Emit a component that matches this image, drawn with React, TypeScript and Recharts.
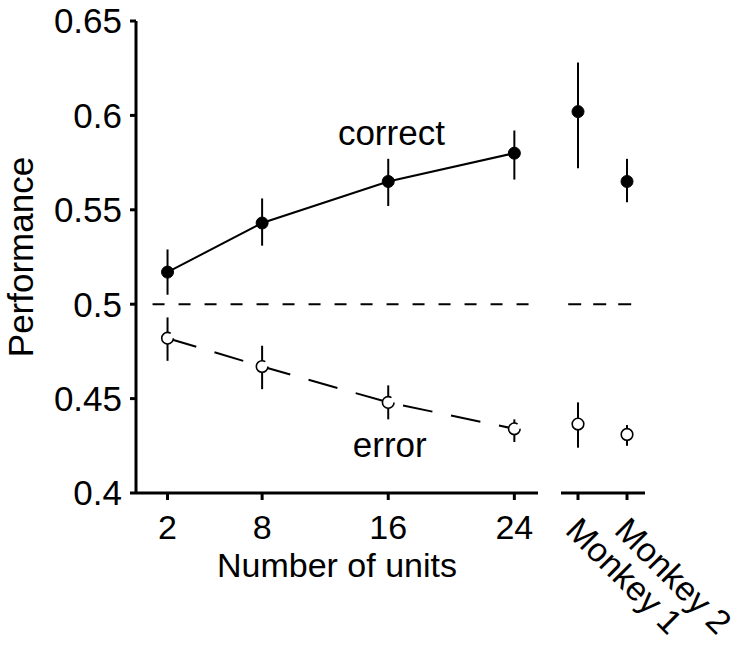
import React from 'react';
import { LineChart, Line, XAxis, YAxis, ErrorBar, ReferenceLine, ReferenceDot, Label } from 'recharts';

// number of units (left panel)
const units = [2, 8, 16, 24];
const correctMean = [0.517, 0.543, 0.565, 0.58];
const correctLow = [0.505, 0.531, 0.552, 0.566];
const correctHigh = [0.529, 0.556, 0.577, 0.592];
const errorMean = [0.482, 0.467, 0.448, 0.434];
const errorLow = [0.47, 0.455, 0.439, 0.427];
const errorHigh = [0.493, 0.478, 0.457, 0.439];

// monkeys (right panel)
const monkeys = ['Monkey 1', 'Monkey 2'];
const monkeyCorrect = [0.602, 0.565];
const monkeyCorrectLow = [0.572, 0.554];
const monkeyCorrectHigh = [0.628, 0.577];
const monkeyError = [0.4365, 0.431];
const monkeyErrorLow = [0.424, 0.425];
const monkeyErrorHigh = [0.448, 0.436];

const yTicks = [0.4, 0.45, 0.5, 0.55, 0.6, 0.65];

const FONT = "'Liberation Sans', Arial, Helvetica, sans-serif";
const FS = 35;
const XFS = 34;

const leftData = units.map((u, i) => ({
  u,
  correct: correctMean[i],
  correctErr: [correctMean[i] - correctLow[i], correctHigh[i] - correctMean[i]],
  error: errorMean[i],
  errorErr: [errorMean[i] - errorLow[i], errorHigh[i] - errorMean[i]],
}));

const rightData = monkeys.map((m, i) => ({
  pos: i + 1,
  correct: monkeyCorrect[i],
  correctErr: [monkeyCorrect[i] - monkeyCorrectLow[i], monkeyCorrectHigh[i] - monkeyCorrect[i]],
  error: monkeyError[i],
  errorErr: [monkeyError[i] - monkeyErrorLow[i], monkeyErrorHigh[i] - monkeyError[i]],
}));

const filledDot = { r: 6, fill: '#000', stroke: '#000', strokeWidth: 1 };
const openDot = { r: 5.8, fill: '#fff', stroke: '#000', strokeWidth: 1.6 };

const MonkeyTick = (props: any) => {
  const { x, y, payload } = props;
  const name = monkeys[Math.round(payload.value) - 1];
  const ax = x - 14;
  const ay = y + 30;
  return (
    <text x={ax} y={ay} fill="#000" fontSize={XFS} fontFamily={FONT} textAnchor="start"
      transform={`rotate(45, ${ax}, ${ay})`}>
      {name}
    </text>
  );
};

const TextLabel = (txt: string) => (props: any) => {
  const vb = props.viewBox || { x: 0, y: 0 };
  return (
    <text x={vb.x} y={vb.y} fill="#000" fontSize={FS} fontFamily={FONT} textAnchor="middle">
      {txt}
    </text>
  );
};

const App = () => {
  return (
    <div style={{ position: 'absolute', left: 0, top: 0, width: 742, height: 647, background: '#fff', fontFamily: FONT }}>
      <div style={{ position: 'absolute', left: 0, top: 0 }}>
        <LineChart width={560} height={647} data={leftData} margin={{ top: 21, right: 22, left: 0, bottom: 0 }}>
          <XAxis
            dataKey="u"
            type="number"
            domain={[0, 25.5]}
            ticks={units}
            height={154}
            tickSize={7}
            tickMargin={15}
            stroke="#000"
            strokeWidth={3}
            tick={{ fill: '#000', fontSize: XFS, fontFamily: FONT }}
          >
            <Label
              content={(p: any) => {
                const vb = p.viewBox || { x: 136, y: 493, width: 402 };
                return (
                  <text x={vb.x + vb.width / 2} y={vb.y + 84} fill="#000" fontSize={XFS} fontFamily={FONT} textAnchor="middle">
                    Number of units
                  </text>
                );
              }}
            />
          </XAxis>
          <YAxis
            type="number"
            domain={[0.4, 0.65]}
            ticks={yTicks}
            width={136}
            tickSize={6}
            tickMargin={8}
            stroke="#000"
            strokeWidth={3}
            tick={{ fill: '#000', fontSize: FS, fontFamily: FONT }}
          >
            <Label
              content={(p: any) => {
                const vb = p.viewBox || { x: 0, y: 21, height: 472 };
                const lx = vb.x + 33;
                const ly = vb.y + vb.height / 2;
                return (
                  <text x={lx} y={ly} fill="#000" fontSize={FS} fontFamily={FONT} textAnchor="middle"
                    transform={`rotate(-90, ${lx}, ${ly})`}>
                    Performance
                  </text>
                );
              }}
            />
          </YAxis>
          <ReferenceLine
            segment={[{ x: 1.05, y: 0.5 }, { x: 25.2, y: 0.5 }]}
            stroke="#000"
            strokeWidth={2}
            strokeDasharray="12 14"
          />
          <Line
            dataKey="error"
            stroke="#000"
            strokeWidth={2}
            strokeDasharray="30 19"
            dot={openDot}
            activeDot={false}
            isAnimationActive={false}
          >
            <ErrorBar dataKey="errorErr" width={0} stroke="#000" strokeWidth={2} direction="y" />
          </Line>
          <Line
            dataKey="correct"
            stroke="#000"
            strokeWidth={2}
            dot={filledDot}
            activeDot={false}
            isAnimationActive={false}
          >
            <ErrorBar dataKey="correctErr" width={0} stroke="#000" strokeWidth={2} direction="y" />
          </Line>
          <ReferenceDot x={16.2} y={0.5843} r={0} fill="none" stroke="none" label={TextLabel('correct')} />
          <ReferenceDot x={16.1} y={0.419} r={0} fill="none" stroke="none" label={TextLabel('error')} />
        </LineChart>
      </div>
      <div style={{ position: 'absolute', left: 540, top: 0 }}>
        <LineChart width={202} height={647} data={rightData} margin={{ top: 21, right: 97, left: 21, bottom: 0 }}>
          <XAxis
            dataKey="pos"
            type="number"
            domain={[0.653, 2.367]}
            ticks={[1, 2]}
            height={154}
            tickSize={7}
            stroke="#000"
            strokeWidth={3}
            tick={<MonkeyTick />}
          />
          <YAxis hide width={0} type="number" domain={[0.4, 0.65]} />
          <ReferenceLine
            segment={[{ x: 0.8, y: 0.5 }, { x: 2.12, y: 0.5 }]}
            stroke="#000"
            strokeWidth={2}
            strokeDasharray="13 12"
          />
          <Line
            dataKey="correct"
            stroke="none"
            dot={filledDot}
            activeDot={false}
            isAnimationActive={false}
          >
            <ErrorBar dataKey="correctErr" width={0} stroke="#000" strokeWidth={2} direction="y" />
          </Line>
          <Line
            dataKey="error"
            stroke="none"
            dot={openDot}
            activeDot={false}
            isAnimationActive={false}
          >
            <ErrorBar dataKey="errorErr" width={0} stroke="#000" strokeWidth={2} direction="y" />
          </Line>
        </LineChart>
      </div>
    </div>
  );
};

export default App;
